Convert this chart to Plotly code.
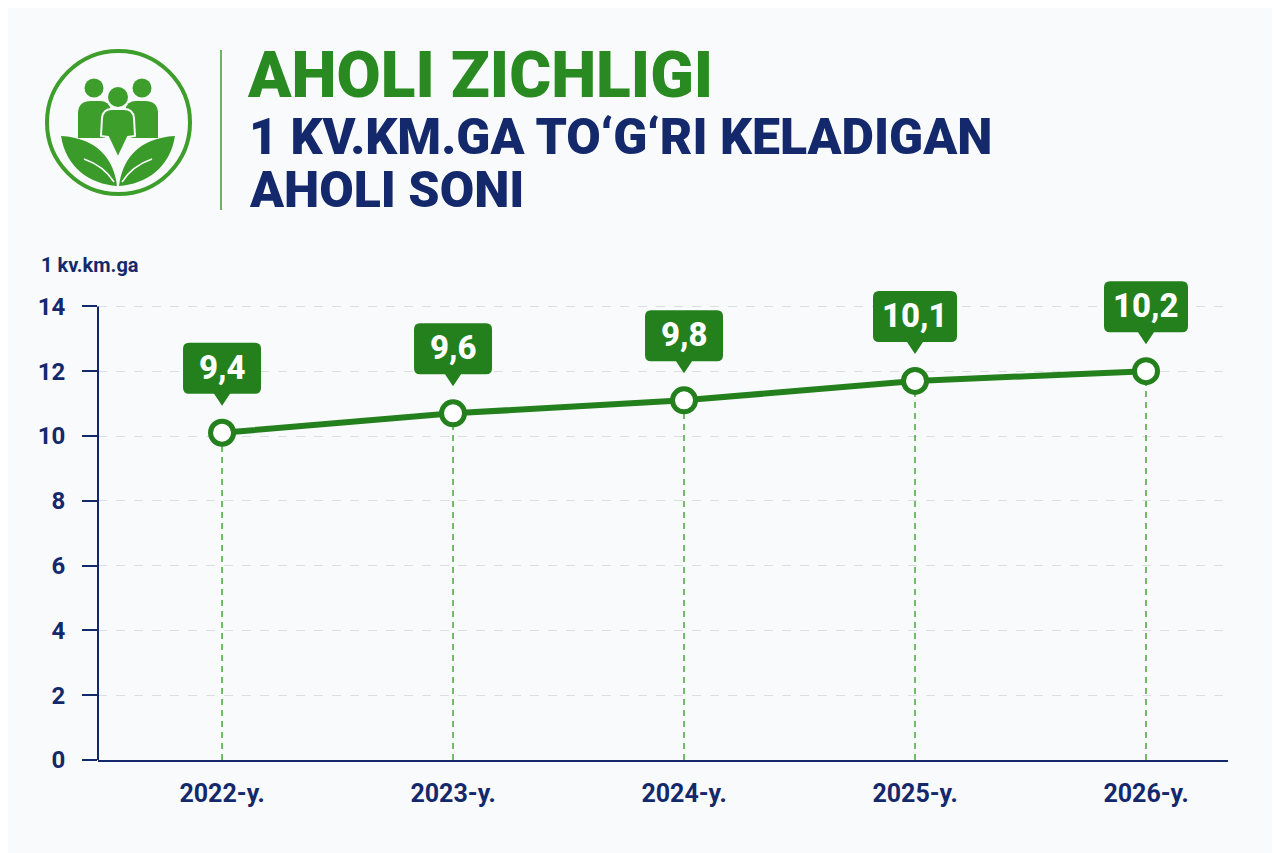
import plotly.graph_objects as go

# Ma'lumotlar (rasmdan o'qilgan)
yillar = ["2022-y.", "2023-y.", "2024-y.", "2025-y.", "2026-y."]
nuqta_qiymat = [10.1, 10.7, 11.1, 11.7, 12.0]      # chiziqdagi nuqtalar balandligi
yorliqlar = ["9,4", "9,6", "9,8", "10,1", "10,2"]   # kalloutlardagi yozuvlar
y_ticks = [0, 2, 4, 6, 8, 10, 12, 14]

YASHIL = "#23801d"
YASHIL_OCH = "#3d9e2c"
KOK = "#14296b"
FON = "#f9fafb"

OFF = 8  # sahifadagi body chetidan siljish
W, H = 1280 - OFF, 853 - OFF
ML, MR, MT, MB = 98 - OFF, 52, 274 - OFF, 93
PW, PH = W - ML - MR, H - MT - MB


# ekran pikseli -> paper koordinata (bezak elementlari uchun)
def fx(p):
    return (p - OFF - ML) / PW


def fy(p):
    return (H - MB - (p - OFF)) / PH


def yol(nuqtalar, yopiq=True):
    s = ""
    for cmd, pts in nuqtalar:
        s += cmd + " " + " ".join(f"{fx(a):.5f},{fy(b):.5f}" for a, b in pts) + " "
    return s + ("Z" if yopiq else "")


fig = go.Figure()

# vertikal punktir chiziqlar (nuqtadan 0 gacha)
for i, v in enumerate(nuqta_qiymat):
    fig.add_trace(go.Scatter(
        x=[yillar[i], yillar[i]], y=[0, v], mode="lines",
        line=dict(color="#45a83a", width=1.5, dash="6px,5px"),
        hoverinfo="skip", showlegend=False))

# asosiy chiziq
fig.add_trace(go.Scatter(
    x=yillar, y=nuqta_qiymat, mode="lines+markers",
    line=dict(color=YASHIL, width=6),
    marker=dict(size=23, color="white", line=dict(color=YASHIL, width=5)),
    showlegend=False, hoverinfo="skip"))

# kalloutlar (yumaloq to'rtburchak + uchli ko'rsatkich)
for i, v in enumerate(nuqta_qiymat):
    hw = 39 if len(yorliqlar[i]) <= 3 else 42
    r, b, t = 6, 39, 90
    path = (f"M 0,27 L 8,{b} L {hw-r},{b} Q {hw},{b} {hw},{b+r} L {hw},{t-r} "
            f"Q {hw},{t} {hw-r},{t} L {-hw+r},{t} Q {-hw},{t} {-hw},{t-r} "
            f"L {-hw},{b+r} Q {-hw},{b} {-hw+r},{b} L -8,{b} Z")
    fig.add_shape(type="path", xref="x", yref="y", xsizemode="pixel", ysizemode="pixel",
                  xanchor=i, yanchor=v, path=path,
                  fillcolor=YASHIL, line=dict(width=0), layer="above")
    fig.add_annotation(x=yillar[i], y=v, yshift=(b + t) / 2 + 1, text=yorliqlar[i],
                       showarrow=False,
                       font=dict(family="Roboto", size=33, color="white", weight=800),
                       xanchor="center", yanchor="middle")

# y o'qi chizig'i (0 dan 14 gacha)
fig.add_shape(type="line", xref="x domain", yref="y", x0=0, x1=0, y0=0, y1=14,
              line=dict(color=KOK, width=2), layer="above")

# --- Sarlavha qismi ---
fig.add_annotation(xref="paper", yref="paper", x=fx(245), y=fy(76), text="AHOLI ZICHLIGI",
                   showarrow=False, xanchor="left", yanchor="middle",
                   font=dict(family="Roboto", size=64, color="#2a8a22", weight=900))
fig.add_annotation(xref="paper", yref="paper", x=fx(247), y=fy(137),
                   text="1 KV.KM.GA TO‘G‘RI KELADIGAN",
                   showarrow=False, xanchor="left", yanchor="middle",
                   font=dict(family="Roboto", size=50, color=KOK, weight=900))
fig.add_annotation(xref="paper", yref="paper", x=fx(247), y=fy(190), text="AHOLI SONI",
                   showarrow=False, xanchor="left", yanchor="middle",
                   font=dict(family="Roboto", size=50, color=KOK, weight=900))
fig.add_annotation(xref="paper", yref="paper", x=fx(39), y=fy(265), text="<b>1 kv.km.ga</b>",
                   showarrow=False, xanchor="left", yanchor="middle",
                   font=dict(family="Roboto", size=20, color=KOK))

# ajratuvchi chiziq
fig.add_shape(type="line", xref="paper", yref="paper", x0=fx(221), x1=fx(221),
              y0=fy(50), y1=fy(210), line=dict(color=YASHIL_OCH, width=1.5))

# --- Logotip ---
fig.add_shape(type="circle", xref="paper", yref="paper",
              x0=fx(47), x1=fx(190), y0=fy(51), y1=fy(194),
              line=dict(color=YASHIL_OCH, width=4), fillcolor="rgba(0,0,0,0)")
for cx, cy, rr in [(94, 88, 9.5), (142, 88, 9.5), (118, 97, 10)]:
    fig.add_shape(type="circle", xref="paper", yref="paper",
                  x0=fx(cx - rr), x1=fx(cx + rr), y0=fy(cy - rr), y1=fy(cy + rr),
                  line=dict(width=0), fillcolor=YASHIL_OCH)
# yon odamlar tanasi
for s in (1, -1):
    def m(x):
        return 118 + s * (x - 118)
    fig.add_shape(type="path", xref="paper", yref="paper", line=dict(width=0),
                  fillcolor=YASHIL_OCH,
                  path=yol([("M", [(m(78), 138)]), ("L", [(m(78), 112)]),
                            ("Q", [(m(79), 101), (m(91), 101)]), ("L", [(m(100), 101)]),
                            ("Q", [(m(109), 101), (m(111), 110)]), ("L", [(m(105), 138)])]))
# o'rtadagi odam
fig.add_shape(type="path", xref="paper", yref="paper", line=dict(color=FON, width=2),
              fillcolor=YASHIL_OCH,
              path=yol([("M", [(101, 136)]), ("L", [(102, 118)]),
                        ("Q", [(103, 109), (112, 109)]), ("L", [(124, 109)]),
                        ("Q", [(133, 109), (134, 118)]), ("L", [(135, 136)]),
                        ("L", [(128, 137)]), ("L", [(118, 158)]), ("L", [(108, 137)])]))
# barglar
for s in (1, -1):
    def m(x):
        return 118 + s * (x - 118)
    fig.add_shape(type="path", xref="paper", yref="paper", line=dict(width=0),
                  fillcolor="#3a9a2a",
                  path=yol([("M", [(m(61), 136)]), ("C", [(m(98), 138), (m(114), 160), (m(117), 186)]),
                            ("C", [(m(90), 184), (m(66), 168), (m(61), 136)])]))
    fig.add_shape(type="path", xref="paper", yref="paper", line=dict(color="white", width=1.5),
                  path=yol([("M", [(m(84), 159)]), ("Q", [(m(104), 166), (m(114), 182)])], yopiq=False))

fig.update_layout(
    width=W, height=H,
    margin=dict(l=ML, r=MR, t=MT, b=MB),
    paper_bgcolor=FON, plot_bgcolor=FON,
    showlegend=False,
    font=dict(family="Roboto", color=KOK),
    xaxis=dict(
        type="category", range=[-0.537, 4.355],
        showline=True, linecolor=KOK, linewidth=2,
        showgrid=False, zeroline=False, ticks="",
        tickfont=dict(family="Roboto", size=25, color=KOK),
        ticklabelstandoff=10,
        tickvals=yillar, ticktext=[f"<b>{y}</b>" for y in yillar],
    ),
    yaxis=dict(
        range=[0, 15], showline=False, zeroline=False,
        tickvals=y_ticks, ticktext=[f"<b>{t}</b>" for t in y_ticks],
        ticks="outside", ticklen=15, tickwidth=1.5, tickcolor=KOK,
        tickfont=dict(family="Roboto", size=24, color=KOK),
        ticklabelstandoff=12,
        showgrid=True, gridcolor="#dcdee3", gridwidth=1, griddash="dash",
    ),
)

fig.write_html("out.html")
